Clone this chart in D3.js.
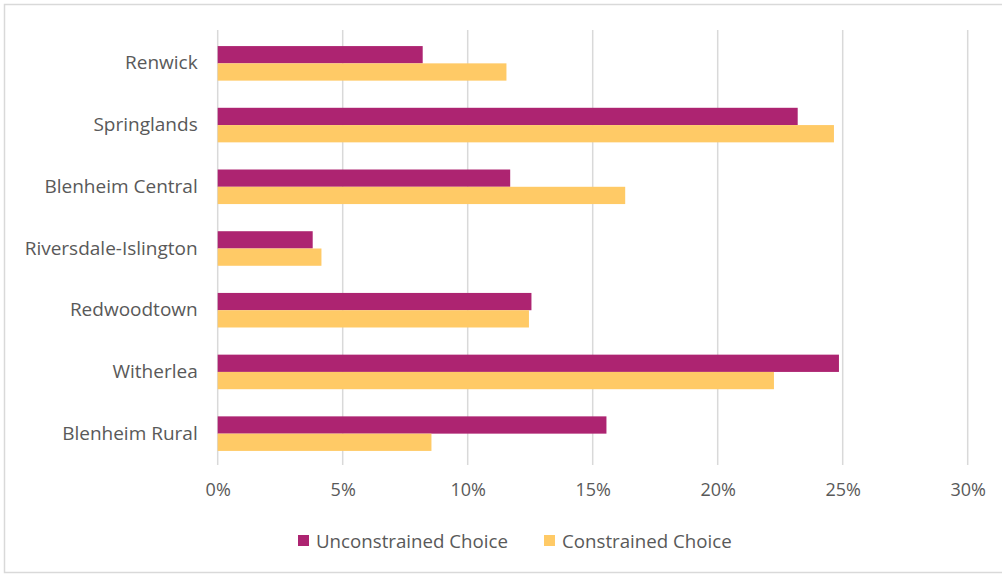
<!DOCTYPE html>
<html>
<head>
<meta charset="utf-8">
<script src="https://cdn.jsdelivr.net/npm/d3@7"></script>
<style>
  body { margin: 0; background: #fff; }
  text { font-family: "Open Sans", sans-serif; fill: #595959; }
</style>
</head>
<body>
<div id="chart"></div>
<script>
'use strict';

// chart data
const categories = ["Renwick", "Springlands", "Blenheim Central", "Riversdale-Islington",
  "Redwoodtown", "Witherlea", "Blenheim Rural"];
const seriesNames = ["Unconstrained Choice", "Constrained Choice"];
const unconstrained = [8.2, 23.2, 11.7, 3.8, 12.55, 24.85, 15.55];
const constrained = [11.55, 24.65, 16.3, 4.15, 12.45, 22.25, 8.55];
const xTicks = [0, 5, 10, 15, 20, 25, 30];

(function() {

  let svgContainer = "";
  const colors = ["#ad2471", "#ffca66"];

  window.onload = function() {
    svgContainer = d3.select('#chart')
      .append('svg')
      .attr('width', 1002)
      .attr('height', 574);

    // light chart border
    svgContainer.append('rect')
      .attr('x', 4.5)
      .attr('y', 4.5)
      .attr('width', 1010)
      .attr('height', 568)
      .attr('fill', 'none')
      .attr('stroke', '#d9d9d9')
      .attr('stroke-width', 1.5);

    drawChart();
  }

  function drawChart() {
    let xScale = d3.scaleLinear()
      .domain([0, 30])
      .range([217.7, 967.7]);

    let yScale = d3.scaleBand()
      .domain(categories)
      .range([32.5, 464.5])
      .paddingInner(0.44)
      .paddingOuter(0.22);

    let subScale = d3.scaleBand()
      .domain(seriesNames)
      .range([0, yScale.bandwidth()]);

    // vertical gridlines
    svgContainer.append('g')
      .selectAll('line')
      .data(xTicks)
      .enter()
      .append('line')
        .attr('x1', (d) => xScale(d))
        .attr('x2', (d) => xScale(d))
        .attr('y1', 30)
        .attr('y2', 465)
        .attr('stroke', '#d9d9d9')
        .attr('stroke-width', 1.5);

    // bars, one group per category
    let rows = categories.map((c, i) => ({
      category: c,
      values: [unconstrained[i], constrained[i]]
    }));

    let groups = svgContainer.append('g')
      .selectAll('g')
      .data(rows)
      .enter()
      .append('g')
        .attr('transform', (d) => 'translate(0,' + yScale(d.category) + ')');

    groups.selectAll('rect')
      .data((d) => d.values.map((v, j) => ({ name: seriesNames[j], value: v, idx: j })))
      .enter()
      .append('rect')
        .attr('x', xScale(0))
        .attr('y', (d) => subScale(d.name))
        .attr('width', (d) => xScale(d.value) - xScale(0))
        .attr('height', subScale.bandwidth())
        .attr('fill', (d) => colors[d.idx]);

    // category labels
    let yAxis = d3.axisLeft(yScale).tickSize(0).tickPadding(20);
    let yAxisG = svgContainer.append('g')
      .attr('transform', 'translate(' + xScale(0) + ',0)')
      .call(yAxis);
    yAxisG.select('.domain').remove();
    yAxisG.selectAll('text')
      .style('font-size', '19px')
      .style('font-family', '"Open Sans", sans-serif')
      .attr('fill', '#595959');

    // percentage labels
    let xAxis = d3.axisBottom(xScale)
      .tickValues(xTicks)
      .tickSize(0)
      .tickPadding(18)
      .tickFormat((d) => d + '%');
    let xAxisG = svgContainer.append('g')
      .attr('transform', 'translate(0, 465)')
      .call(xAxis);
    xAxisG.select('.domain').remove();
    xAxisG.selectAll('text')
      .style('font-size', '18px')
      .style('font-family', '"Open Sans", sans-serif')
      .attr('fill', '#595959');

    makeLegend();
  }

  // legend under the plot
  function makeLegend() {
    let legendX = [298, 544];
    let legend = svgContainer.append('g')
      .selectAll('g')
      .data(seriesNames)
      .enter()
      .append('g')
        .attr('transform', (d, i) => 'translate(' + legendX[i] + ', 535)');

    legend.append('rect')
      .attr('width', 11)
      .attr('height', 11)
      .attr('fill', (d, i) => colors[i]);

    legend.append('text')
      .attr('x', 18)
      .attr('y', 6)
      .attr('dy', '0.35em')
      .style('font-size', '18.7px')
      .text((d) => d);
  }

})();
</script>
</body>
</html>
